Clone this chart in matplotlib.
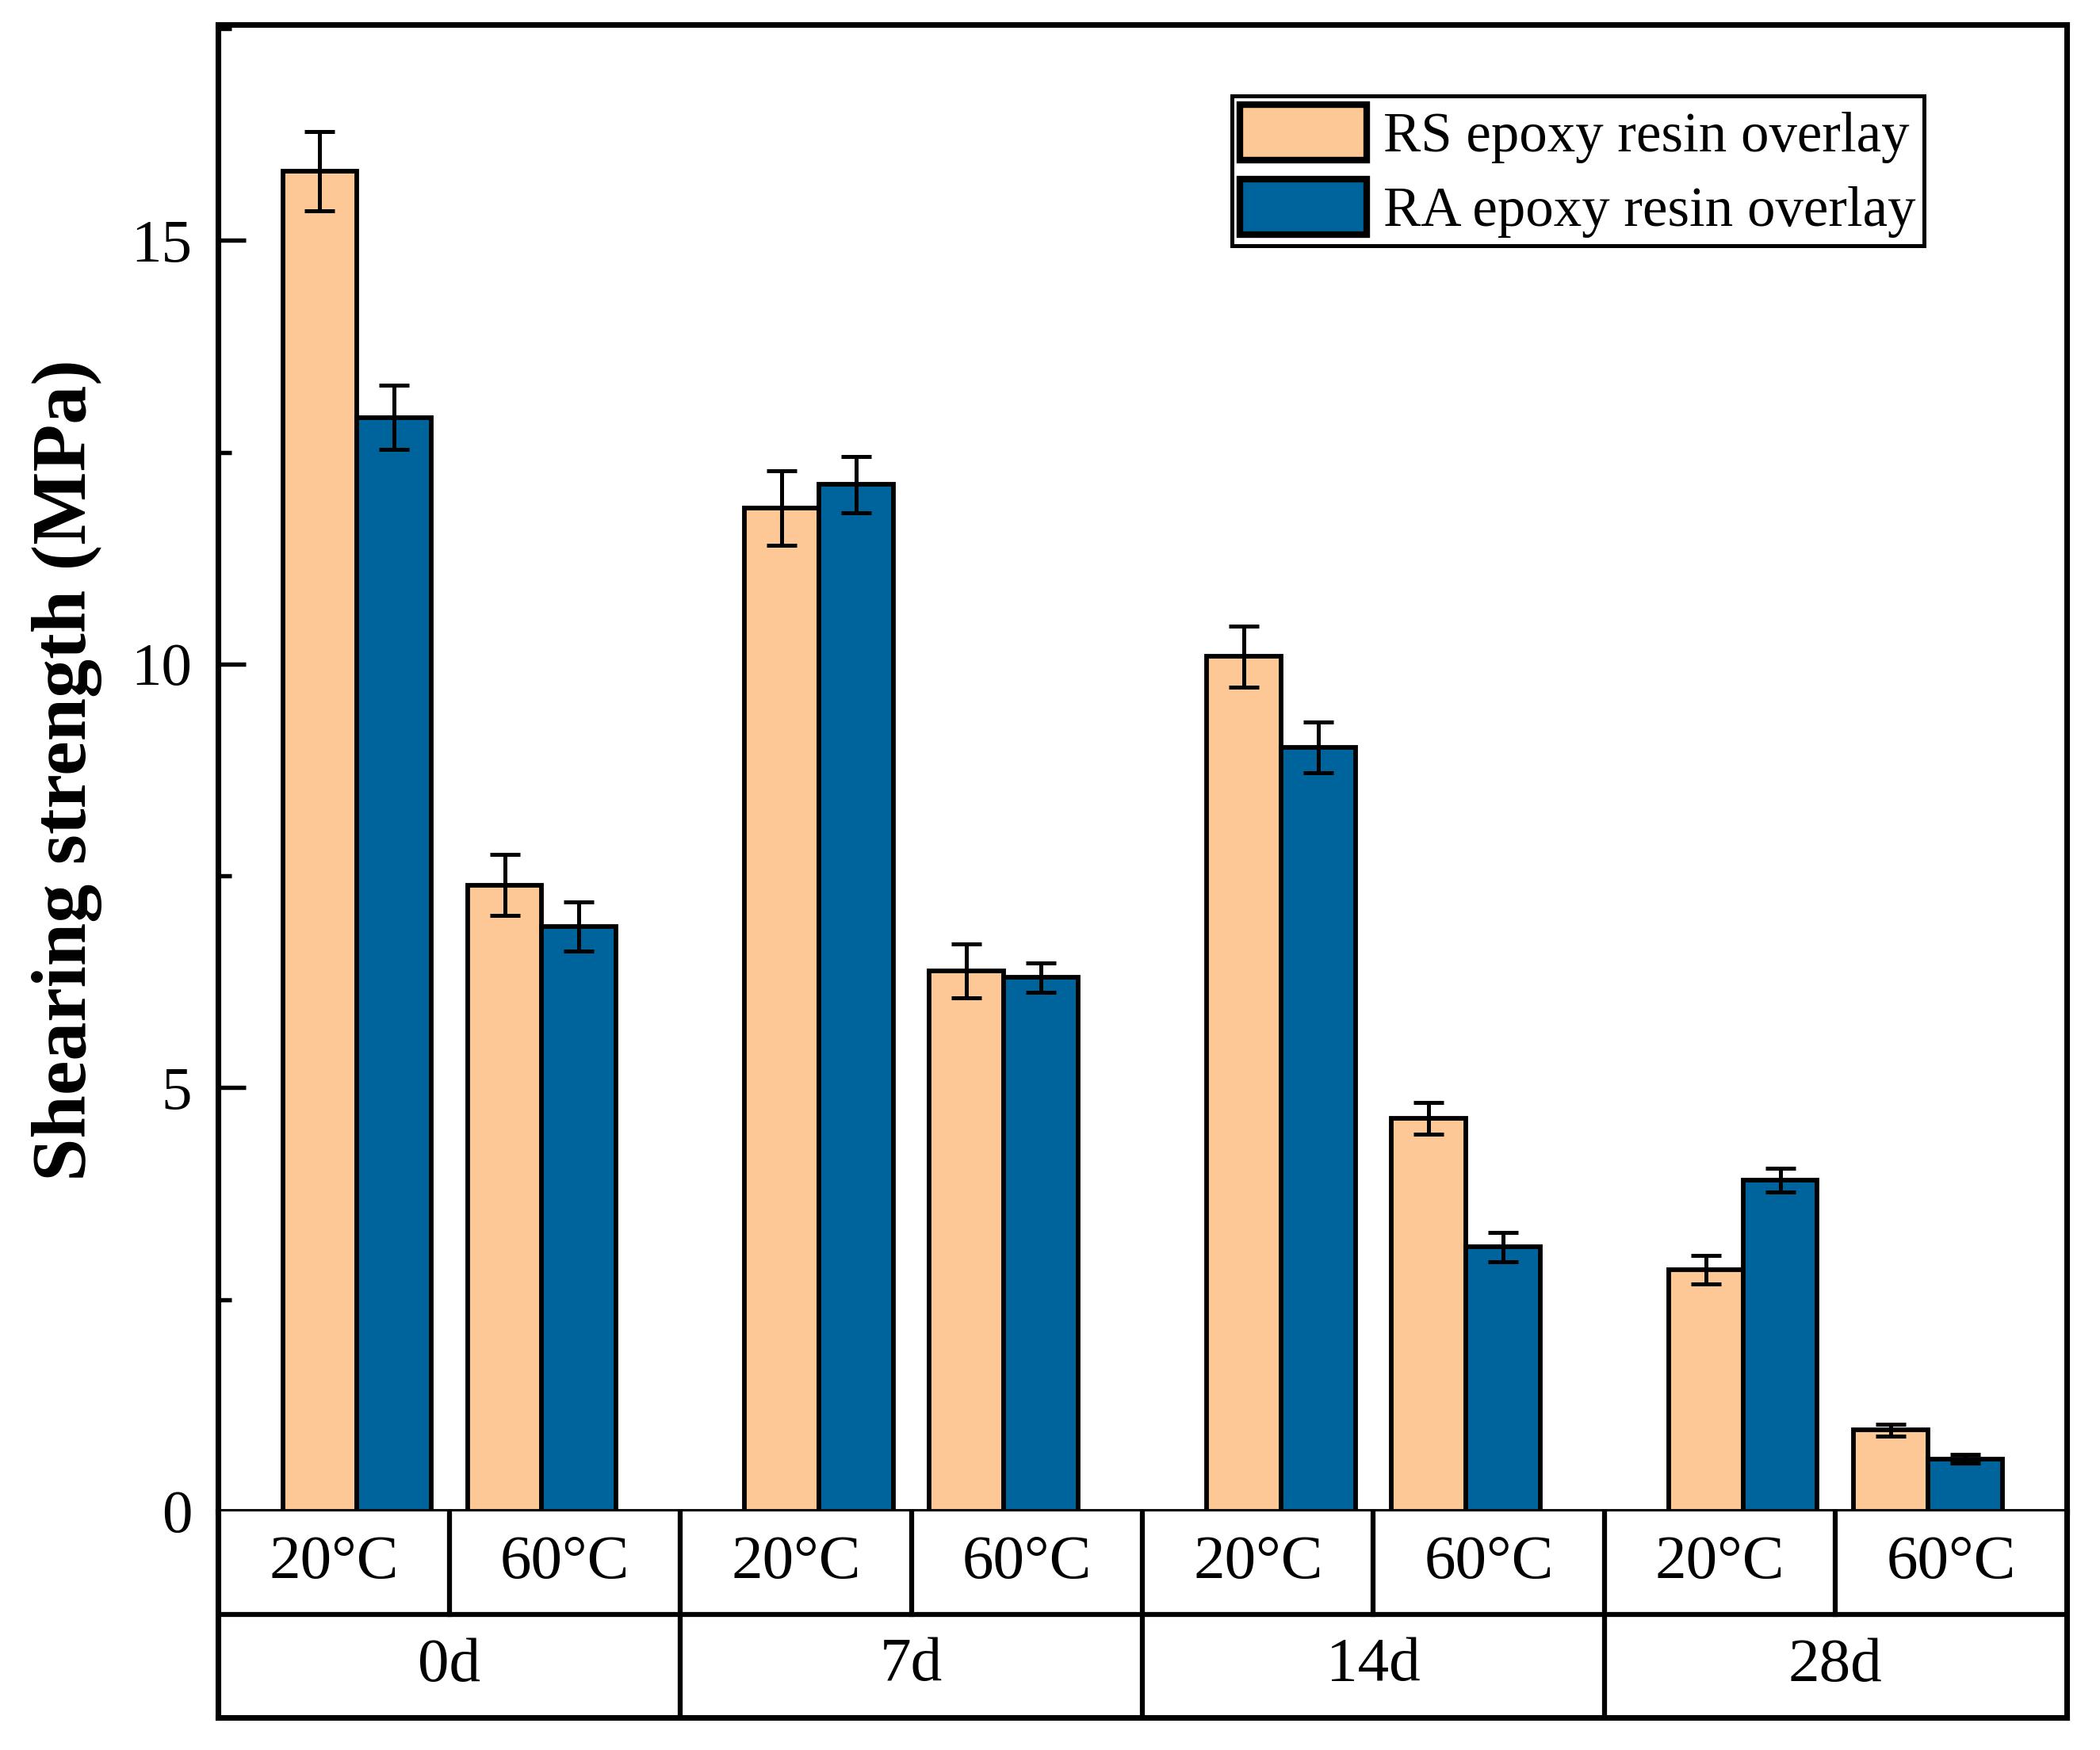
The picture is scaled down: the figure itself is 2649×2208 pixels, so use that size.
import matplotlib.pyplot as plt
from matplotlib.ticker import MultipleLocator
import numpy as np

# values (MPa), order: 0d-20, 0d-60, 7d-20, 7d-60, ...
days = ["0d", "7d", "14d", "28d"]
temps = ["20°C", "60°C"]
rs_mean = [15.82, 7.39, 11.84, 6.38, 10.09, 4.64, 2.85, 0.96]
rs_err = [0.47, 0.36, 0.44, 0.32, 0.36, 0.19, 0.17, 0.07]
ra_mean = [12.91, 6.90, 12.12, 6.30, 9.02, 3.12, 3.91, 0.62]
ra_err = [0.38, 0.29, 0.33, 0.17, 0.30, 0.17, 0.14, 0.05]
series_labels = ["RS epoxy resin overlay", "RA epoxy resin overlay"]

RS_COLOR = "#FEC896"
RA_COLOR = "#00649C"

plt.rcParams["font.family"] = ["Liberation Serif", "DejaVu Serif"]

fig = plt.figure(figsize=(2649 / 300, 2208 / 300), dpi=300)
ax = fig.add_axes([0.104, 0.1364, 0.880, 0.8496])
tab = fig.add_axes([0.104, 0.0187, 0.880, 0.1177])

# bar pair centres: two temperature clusters per day group, pulled toward group centre
centers = np.array([2 * d + 1 + (-0.4 if t == 0 else 0.4)
                    for d in range(len(days)) for t in range(len(temps))])
w = 0.322
ekw = dict(elinewidth=1.2, capthick=1.2, ecolor="black")
ax.bar(centers - w / 2, rs_mean, w, yerr=rs_err, color=RS_COLOR, edgecolor="black",
       linewidth=1.4, capsize=4.5, error_kw=ekw, label=series_labels[0])
ax.bar(centers + w / 2, ra_mean, w, yerr=ra_err, color=RA_COLOR, edgecolor="black",
       linewidth=1.4, capsize=4.5, error_kw=ekw, label=series_labels[1])

ax.set_xlim(0, 8)
ax.set_ylim(0, 17.55)
ax.set_xticks([])
ax.yaxis.set_major_locator(MultipleLocator(5))
ax.yaxis.set_minor_locator(MultipleLocator(2.5))
ax.tick_params(axis="y", which="major", direction="in", length=8.5, width=1.3,
               labelsize=18.5, pad=8)
ax.tick_params(axis="y", which="minor", direction="in", length=4, width=1.3)
for s in ax.spines.values():
    s.set_linewidth(1.7)

fig.text(0.032, 0.56, "Shearing strength (MPa)", rotation=90, ha="center",
         va="center", fontsize=23.5, fontweight="bold")

leg = ax.legend(loc="upper right", bbox_to_anchor=(0.923, 0.952), fontsize=17,
                fancybox=False, edgecolor="black", framealpha=1,
                handlelength=2.25, handleheight=1.15, handletextpad=0.3,
                borderpad=0.15, labelspacing=0.28, borderaxespad=0)
leg.get_frame().set_linewidth(1.2)
for h in leg.legend_handles:
    h.set_linewidth(2.0)

# category table under the plot
tab.set_xlim(0, 8)
tab.set_ylim(0, 2)
tab.set_xticks([])
tab.set_yticks([])
tab.spines["top"].set_visible(False)
for k in ("left", "right", "bottom"):
    tab.spines[k].set_linewidth(1.7)
tab.axhline(1, color="black", lw=1.5)
for i in range(1, 8):
    if i % 2:
        tab.plot([i, i], [1, 2], color="black", lw=1.5)
    else:
        tab.plot([i, i], [0, 2], color="black", lw=1.5)
for i in range(8):
    tab.text(i + 0.5, 1.5, temps[i % 2], ha="center", va="center", fontsize=19)
for d, name in enumerate(days):
    tab.text(2 * d + 1, 0.5, name, ha="center", va="center", fontsize=19)

fig.savefig("out.png", dpi=300, facecolor="white")
